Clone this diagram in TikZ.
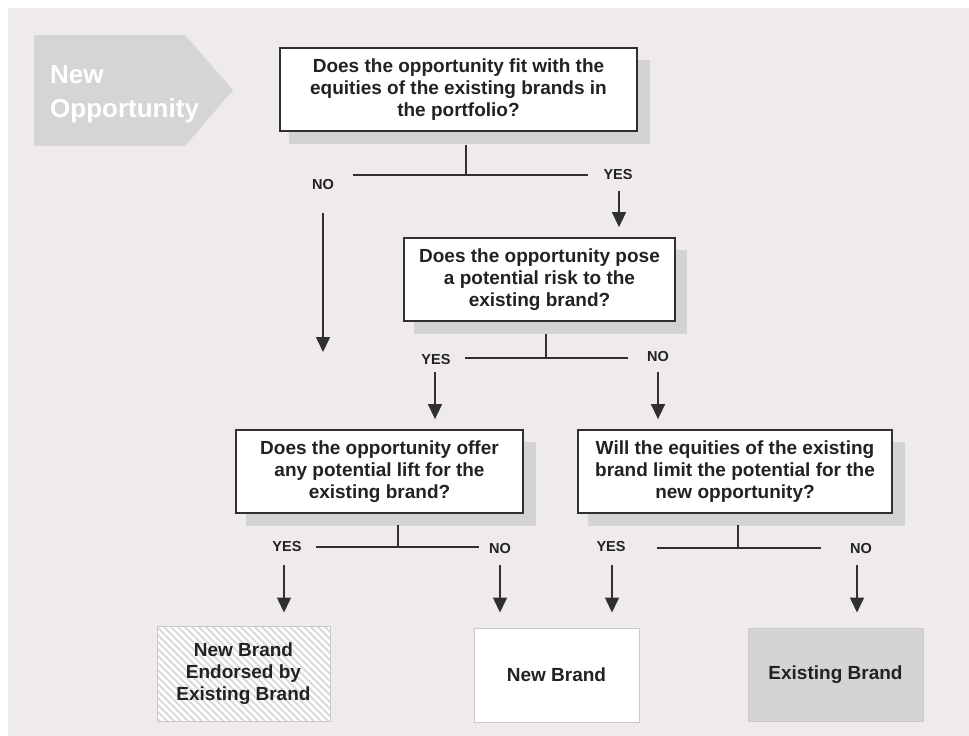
\documentclass[tikz,border=0pt]{standalone}
\usepackage{fontspec}
\setmainfont{Liberation Sans}
\usetikzlibrary{arrows.meta,shadows,calc}
\definecolor{bg}{HTML}{EEEBEA}
\definecolor{sh}{HTML}{D3D3D3}
\definecolor{ink}{HTML}{222222}
\definecolor{linec}{HTML}{303030}
\definecolor{hatchc}{HTML}{DADADA}
\definecolor{edgec}{HTML}{C9C9C9}
\definecolor{pentc}{HTML}{D5D5D5}
\definecolor{graybox}{HTML}{D4D4D4}
\begin{document}
\begin{tikzpicture}[x=1pt,y=-1pt,
  qbox/.style={draw=linec, line width=1.8pt, fill=white, text=ink, align=center,
    font=\bfseries\fontsize{19}{22}\selectfont, inner sep=0pt,
    general shadow={fill=sh, shadow xshift=11pt, shadow yshift=-12pt, shadow scale=1.01}},
  outbox/.style={draw=edgec, line width=1pt, text=ink, align=center,
    font=\bfseries\fontsize{19}{22}\selectfont, inner sep=0pt},
  hatchbox/.style={fill=white, path picture={
    \foreach \k in {-120,-113,...,200}{
      \draw[hatchc, line width=2pt] ($(path picture bounding box.north west)+(\k,0)$) -- ++(120,120);}}},
  lbl/.style={font=\bfseries\fontsize{14.5}{16}\selectfont, text=ink, inner sep=0pt},
  conn/.style={draw=linec, line width=1.6pt},
  arr/.style={draw=linec, line width=1.6pt, -{Triangle[width=14pt,length=15pt]}},
  headtxt/.style={font=\bfseries\fontsize{26}{30}\selectfont, text=white, inner sep=0pt, anchor=base west}
]
\useasboundingbox (0,0) rectangle (969,736);
\fill[bg] (8,8) rectangle (969,736);

% New Opportunity tag
\fill[pentc] (34,35) -- (185,35) -- (233,90) -- (185,146) -- (34,146) -- cycle;
\node[headtxt] (newtxt) at (50,83) {New};
\node[headtxt] (opptxt) at (50,117) {Opportunity};

% Question boxes
\node[qbox, minimum width=357pt, minimum height=83pt] (q1) at (458.5,89.5)
  {Does the opportunity fit with the\\equities of the existing brands in\\the portfolio?};
\node[qbox, minimum width=271pt, minimum height=83pt] (q2) at (539.5,279.5)
  {Does the opportunity pose\\a potential risk to the\\existing brand?};
\node[qbox, minimum width=287pt, minimum height=83pt] (q3) at (379.5,471.5)
  {Does the opportunity offer\\any potential lift for the\\existing brand?};
\node[qbox, minimum width=314pt, minimum height=83pt] (q4) at (735,471.5)
  {Will the equities of the existing\\brand limit the potential for the\\new opportunity?};

% Outcome boxes
\node[outbox, hatchbox, minimum width=173pt, minimum height=95pt] (bA) at (243.5,673.5)
  {New Brand\\Endorsed by\\Existing Brand};
\node[outbox, fill=white, minimum width=165pt, minimum height=94pt] (bB) at (556.5,675)
  {New Brand};
\node[outbox, fill=graybox, minimum width=175pt, minimum height=93pt] (bC) at (835.5,674.5)
  {Existing Brand};

% Level 1 branch
\coordinate (s1) at (466,145);
\coordinate (j1) at (466,175);
\coordinate (h1l) at (353,175);
\coordinate (h1r) at (588,175);
\draw[conn] (s1) -- (j1);
\draw[conn] (h1l) -- (h1r);
\node[lbl] (no1) at (323,185) {NO};
\node[lbl] (yes1) at (618,175) {YES};
\coordinate (a1s) at (323,213);
\coordinate (a1e) at (323,352);
\draw[arr] (a1s) -- (a1e);
\coordinate (a2s) at (619,191);
\draw[arr, shorten >=10pt] (a2s) -- (a2s |- q2.north);

% Level 2 branch
\coordinate (s2) at (546,334);
\coordinate (j2) at (546,358);
\coordinate (h2l) at (465,358);
\coordinate (h2r) at (628,358);
\draw[conn] (s2) -- (j2);
\draw[conn] (h2l) -- (h2r);
\node[lbl] (yes2) at (436,360) {YES};
\node[lbl] (no2) at (658,357) {NO};
\coordinate (a3s) at (435,372);
\coordinate (a4s) at (658,372);
\draw[arr, shorten >=10pt] (a3s) -- (a3s |- q3.north);
\draw[arr, shorten >=10pt] (a4s) -- (a4s |- q4.north);

% Level 3 branches
\coordinate (s3) at (398,525);
\coordinate (j3) at (398,547);
\coordinate (h3l) at (316,547);
\coordinate (h3r) at (479,547);
\draw[conn] (s3) -- (j3);
\draw[conn] (h3l) -- (h3r);
\node[lbl] (yes3) at (287,547) {YES};
\node[lbl] (no3) at (500,549) {NO};

\coordinate (s4) at (738,525);
\coordinate (j4) at (738,548);
\coordinate (h4l) at (657,548);
\coordinate (h4r) at (821,548);
\draw[conn] (s4) -- (j4);
\draw[conn] (h4l) -- (h4r);
\node[lbl] (yes4) at (611,547) {YES};
\node[lbl] (no4) at (861,549) {NO};

\coordinate (a5s) at (284,565);
\coordinate (a6s) at (500,565);
\coordinate (a7s) at (612,565);
\coordinate (a8s) at (857,565);
\draw[arr, shorten >=13pt] (a5s) -- (a5s |- bA.north);
\draw[arr, shorten >=15pt] (a6s) -- (a6s |- bB.north);
\draw[arr, shorten >=15pt] (a7s) -- (a7s |- bB.north);
\draw[arr, shorten >=15pt] (a8s) -- (a8s |- bC.north);
\end{tikzpicture}
\end{document}
